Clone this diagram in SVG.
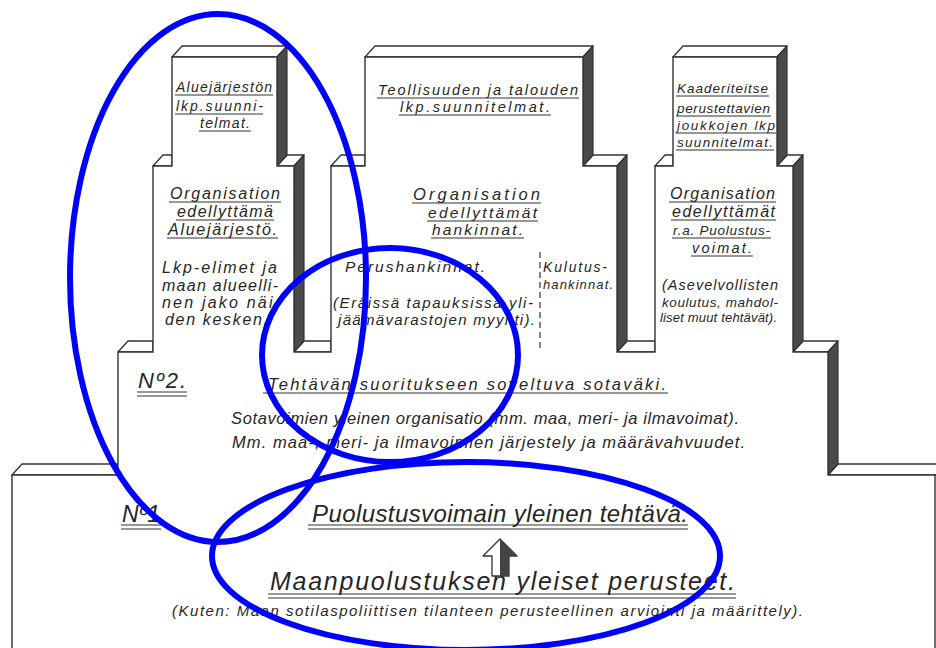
<svg xmlns="http://www.w3.org/2000/svg" width="936" height="648" viewBox="0 0 936 648">
<style>
.top{fill:#fff;stroke:#333;stroke-width:1.3;stroke-linejoin:round}
.side{fill:#4a4a4a;stroke:#333;stroke-width:1.2;stroke-linejoin:round}
.front{fill:#fff;stroke:#333;stroke-width:1.4;stroke-linejoin:miter}
text{font-family:"Liberation Sans","DejaVu Sans",sans-serif;font-style:italic;fill:#262626}
.ul{stroke:#333;stroke-width:1.1;fill:none}
.ring{fill:none;stroke:#0000ff;stroke-width:6}
</style>
<rect width="936" height="648" fill="#fff"/>

<g id="structure">
  <polygon class="top" points="12,475 22,464 118,464 118,475"/>
  <polygon class="top" points="828,475 838,464 946,464 936,475"/>
  <polygon class="top" points="118,352 128,341 153,341 153,352"/>
  <polygon class="top" points="294,352 304,341 331,341 331,352"/>
  <polygon class="top" points="617,352 627,341 655,341 655,352"/>
  <polygon class="top" points="793,352 803,341 838,341 828,352"/>
  <polygon class="top" points="153,166 163,155 172,155 172,166"/>
  <polygon class="top" points="277,166 287,155 304,155 294,166"/>
  <polygon class="top" points="172,57 182,46 287,46 277,57"/>
  <polygon class="top" points="331,166 341,155 365,155 365,166"/>
  <polygon class="top" points="583,166 593,155 627,155 617,166"/>
  <polygon class="top" points="365,57 375,46 593,46 583,57"/>
  <polygon class="top" points="655,166 665,155 673,155 673,166"/>
  <polygon class="top" points="777,166 787,155 803,155 793,166"/>
  <polygon class="top" points="673,57 683,46 787,46 777,57"/>
  <polygon class="side" points="277,57 287,46 287,155 277,166"/>
  <polygon class="side" points="294,166 304,155 304,341 294,352"/>
  <polygon class="side" points="583,57 593,46 593,155 583,166"/>
  <polygon class="side" points="617,166 627,155 627,341 617,352"/>
  <polygon class="side" points="777,57 787,46 787,155 777,166"/>
  <polygon class="side" points="793,166 803,155 803,341 793,352"/>
  <polygon class="side" points="828,352 838,341 838,464 828,475"/>
  <polygon class="front" points="12,660 12,475 118,475 118,352 153,352 153,166 172,166 172,57 277,57 277,166 294,166 294,352 331,352 331,166 365,166 365,57 583,57 583,166 617,166 617,352 655,352 655,166 673,166 673,57 777,57 777,166 793,166 793,352 828,352 828,475 935,475 935,660"/>
</g>

<g id="col-left-upper">
  <text x="176" y="92" font-size="14" textLength="96">Aluejärjestön</text>
  <text x="176" y="111" font-size="14" textLength="87">lkp.suunni-</text>
  <text x="200" y="128" font-size="14" textLength="50">telmat.</text>
  <path class="ul" d="M175,95H273M175,114H263M199,131H251"/>
</g>
<g id="col-left-lower">
  <text x="170" y="199" font-size="16" textLength="110">Organisation</text>
  <text x="177" y="217" font-size="16" textLength="96">edellyttämä</text>
  <text x="168" y="235" font-size="16" textLength="109">Aluejärjestö.</text>
  <path class="ul" d="M169,202H281M176,220H274M167,238H278"/>
  <text x="162" y="273" font-size="16" textLength="115">Lkp-elimet ja</text>
  <text x="162" y="291" font-size="16" textLength="116">maan alueelli-</text>
  <text x="162" y="308" font-size="16" textLength="118">nen jako näi-</text>
  <text x="165" y="325" font-size="16" textLength="103">den kesken.</text>
</g>

<g id="col-middle-upper">
  <text x="378" y="95" font-size="14.5" textLength="200">Teollisuuden ja talouden</text>
  <text x="400" y="112" font-size="14.5" textLength="150">lkp.suunnitelmat.</text>
  <path class="ul" d="M377,98H579M399,115H551"/>
</g>
<g id="col-middle-lower">
  <text x="413" y="200" font-size="16.5" textLength="127">Organisation</text>
  <text x="428" y="218" font-size="15.5" textLength="109">edellyttämät</text>
  <text x="432" y="235" font-size="15.5" textLength="91">hankinnat.</text>
  <path class="ul" d="M412,203H541M427,221H538M431,238H524"/>
  <text x="345" y="272" font-size="15.5" textLength="140">Perushankinnat.</text>
  <text x="333" y="308" font-size="15" textLength="200">(Eräissä tapauksissa yli-</text>
  <text x="338" y="325" font-size="15" textLength="197">jäämävarastojen myynti).</text>
  <line x1="540" y1="252" x2="540" y2="348" stroke="#333" stroke-width="1.2" stroke-dasharray="6,4"/>
  <text x="543" y="272" font-size="14" textLength="64">Kulutus-</text>
  <text x="543" y="289" font-size="13" textLength="70">hankinnat.</text>
</g>

<g id="col-right-upper">
  <text x="677" y="93" font-size="13.5" textLength="91">Kaaderiteitse</text>
  <text x="677" y="113" font-size="13.5" textLength="93">perustettavien</text>
  <text x="677" y="130" font-size="13.5" textLength="98">joukkojen lkp</text>
  <text x="677" y="147" font-size="13.5" textLength="96">suunnitelmat.</text>
  <path class="ul" d="M676,96H769M676,116H771M676,133H776M676,150H774"/>
</g>
<g id="col-right-lower">
  <text x="670" y="199" font-size="16" textLength="105">Organisation</text>
  <text x="672" y="217" font-size="16" textLength="103">edellyttämät</text>
  <text x="673" y="235" font-size="13.5" textLength="97">r.a. Puolustus-</text>
  <text x="692" y="253" font-size="14.5" textLength="60">voimat.</text>
  <path class="ul" d="M669,202H776M671,220H776M672,238H771M691,256H753"/>
  <text x="662" y="290" font-size="14.5" textLength="116">(Asevelvollisten</text>
  <text x="662" y="307" font-size="13.5" textLength="116">koulutus, mahdol-</text>
  <text x="660" y="322" font-size="13" textLength="117">liset muut tehtävät).</text>
</g>

<g id="block-no2">
  <text x="138" y="388" font-size="22" textLength="48">Nº2.</text>
  <path class="ul" d="M137,392H187M137,396H187"/>
  <text x="268" y="390" font-size="16.5" textLength="398">Tehtävän suoritukseen soveltuva sotaväki.</text>
  <path class="ul" d="M263,393H668"/>
  <text x="231" y="424" font-size="16.5" textLength="508">Sotavoimien yleinen organisatio (mm. maa, meri- ja ilmavoimat).</text>
  <text x="232" y="448" font-size="16.5" textLength="513">Mm. maa-, meri- ja ilmavoimien järjestely ja määrävahvuudet.</text>
</g>

<g id="block-no1">
  <text x="122" y="522" font-size="23" textLength="38">Nº1</text>
  <path class="ul" d="M121,525H161M121,529H161"/>
  <text x="312" y="522" font-size="24" textLength="376">Puolustusvoimain yleinen tehtävä.</text>
  <path class="ul" d="M308,525H688M308,529H688"/>
  <path d="M500,539L517,556H509V576H492V556H483Z" fill="#fff" stroke="#333" stroke-width="1.3" stroke-linejoin="round"/>
  <path d="M500,539L517,556H509V576H500Z" fill="#444"/>
  <text x="270" y="590" font-size="25" textLength="465">Maanpuolustuksen yleiset perusteet.</text>
  <path class="ul" d="M268,594H736M268,598H736"/>
  <text x="172" y="616" font-size="15" textLength="631">(Kuten: Maan sotilaspoliittisen tilanteen perusteellinen arviointi ja määrittely).</text>
</g>

<g id="annotations">
  <ellipse class="ring" cx="218" cy="278" rx="148" ry="264"/>
  <ellipse class="ring" cx="390" cy="355" rx="128" ry="107"/>
  <ellipse class="ring" cx="466" cy="556" rx="254" ry="94"/>
</g>
</svg>
